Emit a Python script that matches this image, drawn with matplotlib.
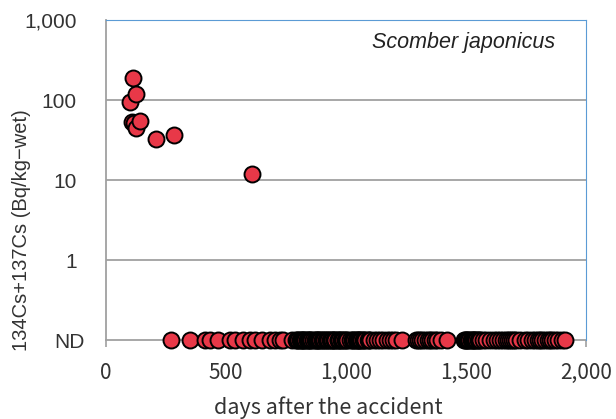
import matplotlib
matplotlib.use('Agg')
from matplotlib import pyplot as plt
import matplotlib.transforms as mtransforms

# detected samples (days after the accident, Bq/kg-wet)
det_days = [100, 108, 112, 118, 125, 125, 142, 208, 283, 608]
det_vals = [94, 53, 188, 52, 119, 45, 55, 33, 37, 12]

# samples below detection limit (plotted on the ND row)
nd_days = [271, 350, 412, 433, 467, 517, 537, 571, 600, 621, 650, 683, 704,
           725, 737, 775, 790, 796, 800, 808, 812, 815, 822, 826, 830, 838,
           842, 845, 852, 856, 862, 870, 874, 878, 885, 889, 893, 900, 905,
           910, 918, 922, 925, 933, 937, 940, 948, 952, 955, 965, 968, 972,
           980, 984, 988, 995, 1000, 1005, 1017, 1025, 1029, 1033, 1040, 1044,
           1048, 1055, 1059, 1063, 1070, 1075, 1080, 1090, 1095, 1100, 1115,
           1130, 1142, 1155, 1170, 1183, 1195, 1210, 1233, 1290, 1300, 1308,
           1318, 1329, 1340, 1350, 1360, 1371, 1380, 1395, 1421, 1490, 1494,
           1498, 1505, 1509, 1512, 1520, 1524, 1528, 1535, 1539, 1543, 1550,
           1554, 1558, 1570, 1585, 1600, 1615, 1628, 1642, 1655, 1665, 1675,
           1683, 1692, 1700, 1710, 1725, 1746, 1760, 1775, 1787, 1800, 1808,
           1818, 1829, 1840, 1850, 1860, 1870, 1885, 1900, 1912]

nd_level = 0.1
y_ticks = [0.1, 1, 10, 100, 1000]
y_labels = ['ND', '1', '10', '100', '1,000']
x_ticks = [0, 500, 1000, 1500, 2000]
x_labels = ['0', '500', '1,000', '1,500', '2,000']

red = '#E83848'
grid_gray = '#A0A0A0'
blue = '#5B9BD5'

fig = plt.figure(figsize=(6.16, 4.19), dpi=100)
ax = fig.add_axes([106/616, 1-340/419, 480/616, 320/419])

ax.set_yscale('log')
ax.set_ylim(0.1, 1000)
ax.set_xlim(0, 2000)

for y in [1, 10, 100]:
    ax.axhline(y, color=grid_gray, lw=1.3, zorder=1)

ms = 11.5
ax.plot(det_days, det_vals, 'o', ms=ms, mfc=red, mec='black', mew=1.4,
        zorder=3, clip_on=False)
ax.plot(nd_days, [nd_level]*len(nd_days), 'o', ms=ms, mfc=red, mec='black',
        mew=1.4, zorder=3, clip_on=False)

ax.set_yticks(y_ticks)
ax.set_yticklabels(y_labels)
ax.yaxis.set_minor_locator(matplotlib.ticker.NullLocator())
ax.tick_params(axis='y', length=0, pad=21, labelsize=15,
               labelcolor='#333333')
for lab in ax.get_yticklabels():
    lab.set_fontfamily('Liberation Sans')
nd_lab = ax.get_yticklabels()[0]
nd_lab.set_transform(nd_lab.get_transform() +
                     mtransforms.ScaledTranslation(8/100, 0, fig.dpi_scale_trans))

ax.set_xticks(x_ticks)
ax.set_xticklabels(x_labels)
ax.tick_params(axis='x', length=5, width=1.2, color=grid_gray, pad=11,
               labelsize=15, labelcolor='#333333', direction='out')
for lab in ax.get_xticklabels():
    lab.set_fontfamily('Noto Sans CJK JP')

ax.spines['left'].set_color(grid_gray)
ax.spines['bottom'].set_color(grid_gray)
ax.spines['left'].set_linewidth(1.3)
ax.spines['bottom'].set_linewidth(1.3)
ax.spines['top'].set_color(blue)
ax.spines['right'].set_color(blue)
ax.spines['bottom'].set_zorder(2)

ax.text(0.935, 0.93, 'Scomber japonicus', transform=ax.transAxes,
        ha='right', va='center', fontsize=15.5, style='italic',
        family='Liberation Sans', color='#222222')

fig.text(328/616, 1-408/419, 'days after the accident', ha='center',
         va='center', fontsize=15.5, family='Noto Sans CJK JP', color='#333333')
fig.text(22/616, 1-230/419, '134Cs+137Cs (Bq/kg\u2212wet)', rotation=90,
         ha='center', va='center', fontsize=14.5, family='Liberation Sans',
         color='#333333')

fig.savefig('out.png', dpi=100)
